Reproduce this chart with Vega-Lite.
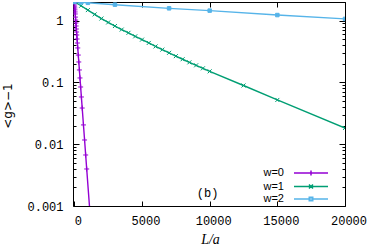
{
  "$schema": "https://vega.github.io/schema/vega-lite/v6.json",
  "width": 272,
  "height": 204,
  "autosize": {"type": "none"},
  "padding": {"left": 73, "top": 2, "right": 22, "bottom": 39},
  "config": {
    "view": {"stroke": "#000", "strokeWidth": 1},
    "axis": {"grid": false, "domain": false, "labelFont": "Liberation Mono", "labelFontSize": 12, "labelColor": "#000", "tickColor": "#000", "tickWidth": 1, "labelFlush": false, "labelOverlap": false}
  },
  "datasets": {
    "curves": [
      {"series": "w=0", "L": 0, "g": 2.0},
      {"series": "w=0", "L": 11, "g": 1.86},
      {"series": "w=0", "L": 22, "g": 1.72},
      {"series": "w=0", "L": 33, "g": 1.60},
      {"series": "w=0", "L": 44, "g": 1.49},
      {"series": "w=0", "L": 55, "g": 1.38},
      {"series": "w=0", "L": 66, "g": 1.28},
      {"series": "w=0", "L": 82, "g": 1.14},
      {"series": "w=0", "L": 98, "g": 1.02},
      {"series": "w=0", "L": 115, "g": 0.915},
      {"series": "w=0", "L": 131, "g": 0.818},
      {"series": "w=0", "L": 148, "g": 0.731},
      {"series": "w=0", "L": 164, "g": 0.654},
      {"series": "w=0", "L": 181, "g": 0.585},
      {"series": "w=0", "L": 202, "g": 0.504},
      {"series": "w=0", "L": 224, "g": 0.434},
      {"series": "w=0", "L": 252, "g": 0.361},
      {"series": "w=0", "L": 290, "g": 0.277},
      {"series": "w=0", "L": 328, "g": 0.214},
      {"series": "w=0", "L": 372, "g": 0.159},
      {"series": "w=0", "L": 416, "g": 0.118},
      {"series": "w=0", "L": 465, "g": 0.0843},
      {"series": "w=0", "L": 520, "g": 0.0581},
      {"series": "w=0", "L": 580, "g": 0.0385},
      {"series": "w=0", "L": 673, "g": 0.0205},
      {"series": "w=0", "L": 755, "g": 0.0117},
      {"series": "w=0", "L": 837, "g": 0.00669},
      {"series": "w=0", "L": 913, "g": 0.00397},
      {"series": "w=0", "L": 1200, "g": 0.000568},
      {"series": "w=1", "L": 0, "g": 2.0},
      {"series": "w=1", "L": 500, "g": 1.74},
      {"series": "w=1", "L": 1000, "g": 1.48},
      {"series": "w=1", "L": 1500, "g": 1.26},
      {"series": "w=1", "L": 2000, "g": 1.08},
      {"series": "w=1", "L": 2500, "g": 0.933},
      {"series": "w=1", "L": 3000, "g": 0.817},
      {"series": "w=1", "L": 3500, "g": 0.716},
      {"series": "w=1", "L": 4000, "g": 0.634},
      {"series": "w=1", "L": 4500, "g": 0.556},
      {"series": "w=1", "L": 5000, "g": 0.492},
      {"series": "w=1", "L": 5500, "g": 0.435},
      {"series": "w=1", "L": 6000, "g": 0.382},
      {"series": "w=1", "L": 6500, "g": 0.339},
      {"series": "w=1", "L": 7000, "g": 0.301},
      {"series": "w=1", "L": 7500, "g": 0.266},
      {"series": "w=1", "L": 8000, "g": 0.237},
      {"series": "w=1", "L": 8500, "g": 0.211},
      {"series": "w=1", "L": 9000, "g": 0.189},
      {"series": "w=1", "L": 9500, "g": 0.169},
      {"series": "w=1", "L": 10000, "g": 0.151},
      {"series": "w=1", "L": 12500, "g": 0.0891},
      {"series": "w=1", "L": 15000, "g": 0.052},
      {"series": "w=1", "L": 20000, "g": 0.0183},
      {"series": "w=2", "L": 0, "g": 2.0},
      {"series": "w=2", "L": 500, "g": 1.97},
      {"series": "w=2", "L": 1000, "g": 1.94},
      {"series": "w=2", "L": 3000, "g": 1.81},
      {"series": "w=2", "L": 7000, "g": 1.58},
      {"series": "w=2", "L": 10000, "g": 1.45},
      {"series": "w=2", "L": 15000, "g": 1.23},
      {"series": "w=2", "L": 20000, "g": 1.065}
    ]
  },
  "data": {"name": "curves"},
  "layer": [
    {
      "mark": {"type": "line", "strokeWidth": 1.4, "clip": true},
      "encoding": {
        "x": {
          "field": "L", "type": "quantitative",
          "scale": {"domain": [-100, 20000], "nice": false, "zero": false},
          "axis": {
            "orient": "bottom", "values": [0, 5000, 10000, 15000, 20000], "format": "d",
            "tickSize": -5, "labelPadding": 14, "labelOffset": 3.5,
            "title": "L/a", "titleFont": "Liberation Serif", "titleFontStyle": "italic",
            "titleFontSize": 14, "titleFontWeight": "normal", "titleColor": "#000",
            "titleX": 137, "titleY": 37, "titleBaseline": "alphabetic", "titleAlign": "center"
          }
        },
        "y": {
          "field": "g", "type": "quantitative",
          "scale": {"type": "log", "domain": [0.001, 2], "nice": false},
          "axis": {
            "orient": "left",
            "values": [0.001, 0.002, 0.003, 0.004, 0.005, 0.006, 0.007, 0.008, 0.009, 0.01, 0.02, 0.03, 0.04, 0.05, 0.06, 0.07, 0.08, 0.09, 0.1, 0.2, 0.3, 0.4, 0.5, 0.6, 0.7, 0.8, 0.9, 1, 2],
            "format": "~g",
            "labelExpr": "indexof([0.001,0.01,0.1,1], datum.value) >= 0 ? datum.label : ''",
            "tickSize": {"condition": {"test": "indexof([0.001,0.01,0.1,1], datum.value) >= 0", "value": -6}, "value": -3},
            "labelPadding": 16,
            "title": "<g>−1", "titleFont": "DejaVu Sans", "titleFontSize": 12, "titleFontWeight": "normal",
            "titleColor": "#000", "titleX": -66, "titleY": 103.5, "titleAngle": -90,
            "titleBaseline": "middle", "titleAlign": "center"
          }
        },
        "color": {
          "field": "series", "type": "nominal",
          "scale": {"domain": ["w=0", "w=1", "w=2"], "range": ["#9400d3", "#009e73", "#56b4e9"]},
          "legend": null
        }
      }
    },
    {
      "mark": {"type": "point", "filled": true, "size": 25, "strokeWidth": 1, "opacity": 1, "clip": true},
      "encoding": {
        "x": {
          "field": "L", "type": "quantitative",
          "axis": {"orient": "top", "values": [0, 5000, 10000, 15000, 20000], "tickSize": -5, "labels": false, "title": null}
        },
        "y": {
          "field": "g", "type": "quantitative",
          "axis": {
            "orient": "right",
            "values": [0.001, 0.002, 0.003, 0.004, 0.005, 0.006, 0.007, 0.008, 0.009, 0.01, 0.02, 0.03, 0.04, 0.05, 0.06, 0.07, 0.08, 0.09, 0.1, 0.2, 0.3, 0.4, 0.5, 0.6, 0.7, 0.8, 0.9, 1, 2],
            "tickSize": {"condition": {"test": "indexof([0.001,0.01,0.1,1], datum.value) >= 0", "value": -6}, "value": -3},
            "labels": false, "title": null
          }
        },
        "color": {
          "field": "series", "type": "nominal",
          "scale": {"domain": ["w=0", "w=1", "w=2"], "range": ["#9400d3", "#009e73", "#56b4e9"]},
          "legend": null
        },
        "stroke": {
          "field": "series", "type": "nominal",
          "scale": {"domain": ["w=0", "w=1", "w=2"], "range": ["#9400d3", "#009e73", "#56b4e9"]},
          "legend": null
        },
        "shape": {
          "field": "series", "type": "nominal",
          "scale": {"domain": ["w=0", "w=1", "w=2"], "range": ["M-1,0L1,0M0,-1L0,1", "M-0.8,-0.8L0.8,0.8M-0.8,0.8L0.8,-0.8", "M-0.7,-0.7L0.7,-0.7L0.7,0.7L-0.7,0.7Z"]},
          "legend": null
        }
      }
    },
    {
      "transform": [{"filter": "false"}],
      "mark": {"type": "point", "filled": false, "strokeWidth": 1.5, "opacity": 1},
      "encoding": {
        "x": {"field": "L", "type": "quantitative", "axis": null},
        "y": {"field": "g", "type": "quantitative", "axis": null},
        "color": {
          "field": "series", "type": "nominal",
          "scale": {"domain": ["w=0", "w=1", "w=2"], "range": ["#9400d3", "#009e73", "#56b4e9"]},
          "legend": {"title": null, "orient": "none", "legendX": 232, "legendY": 165, "symbolSize": 100, "symbolStrokeWidth": 1.5, "labelAlign": "right", "labelOffset": -33, "labelFont": "Liberation Sans", "labelFontSize": 11, "labelColor": "#000", "rowPadding": 1.5, "padding": 0, "symbolOffset": 0, "symbolFillColor": "transparent"}
        },
        "shape": {
          "field": "series", "type": "nominal",
          "scale": {"domain": ["w=0", "w=1", "w=2"], "range": ["M-3.4,0L3.4,0M0,-0.5L0,0.5M-0.5,0L0.5,0", "M-3.4,0L3.4,0M-0.4,-0.4L0.4,0.4M-0.4,0.4L0.4,-0.4", "M-3.4,0L3.4,0M-0.35,-0.35L0.35,-0.35L0.35,0.35L-0.35,0.35Z"]},
          "legend": {"title": null, "orient": "none", "legendX": 232, "legendY": 165, "symbolSize": 100, "symbolStrokeWidth": 1.5, "labelAlign": "right", "labelOffset": -33, "labelFont": "Liberation Sans", "labelFontSize": 11, "labelColor": "#000", "rowPadding": 1.5, "padding": 0, "symbolOffset": 0, "symbolFillColor": "transparent"}
        }
      }
    },
    {
      "data": {"values": [{}]},
      "mark": {"type": "text", "font": "Liberation Mono", "fontSize": 12, "color": "#000", "align": "center", "baseline": "middle"},
      "encoding": {
        "x": {"datum": 9850, "type": "quantitative", "axis": null},
        "y": {"datum": 0.0016, "type": "quantitative", "axis": null},
        "text": {"value": "(b)"}
      }
    }
  ],
  "resolve": {
    "axis": {"x": "independent", "y": "independent"},
    "scale": {"color": "independent", "shape": "independent", "stroke": "independent"}
  }
}
